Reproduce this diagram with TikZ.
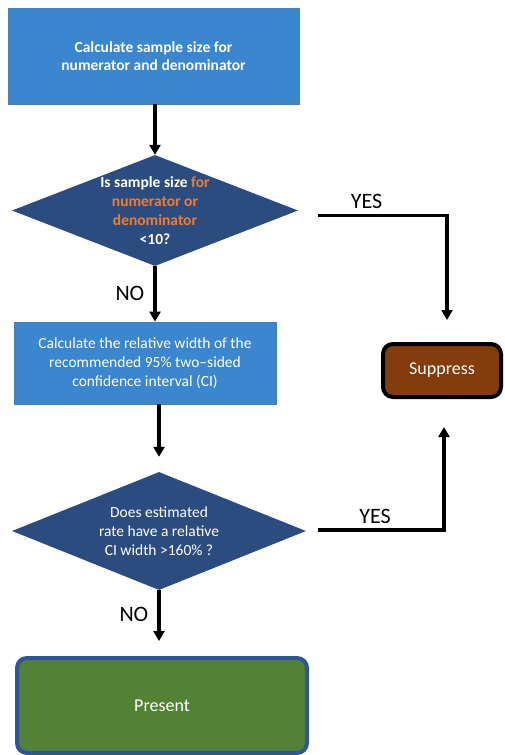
\documentclass[tikz,border=0pt]{standalone}
\usepackage{fontspec}
\setmainfont{Carlito}
\usetikzlibrary{arrows.meta,positioning,shapes.geometric}
\definecolor{fcblue}{HTML}{3A87CF}
\definecolor{fcblueline}{HTML}{4A7EBB}
\definecolor{fcnavy}{HTML}{2C4C80}
\definecolor{fcorange}{HTML}{ED7D31}
\definecolor{fcbrown}{HTML}{843C0C}
\definecolor{fcgreen}{HTML}{538135}
\definecolor{fcborder}{HTML}{2F5597}

\begin{document}
\begin{tikzpicture}[x=1pt, y=-1pt, font=\fontsize{15.5}{19}\selectfont,
  procbox/.style={rectangle, draw=fcblueline, line width=0.8pt, fill=fcblue, text=white, align=center, inner sep=4pt},
  decision/.style={diamond, fill=fcnavy, inner sep=0pt},
  dtext/.style={text=white, align=center, inner sep=0pt},
  endbox/.style={rectangle, rounded corners=10pt, line width=4pt, text=white, align=center, font=\fontsize{18}{22}\selectfont},
  arr/.style={-{Triangle[length=10pt,width=11pt]}, line width=3.4pt},
  lab/.style={font=\fontsize{22}{24}\selectfont, inner sep=1pt}]
\useasboundingbox (0,0) rectangle (504,755);
\node[procbox, minimum width=291pt, minimum height=96pt, font=\fontsize{15.5}{18.5}\selectfont\bfseries] (size) at (153.5,56) {Calculate sample size for\\numerator and denominator};
\node[decision, minimum width=286pt, minimum height=111pt] (small) at (155,210.5) {};
\node[dtext, font=\fontsize{15.5}{19}\selectfont\bfseries] (smalltext) at (small) {Is sample size \textcolor{fcorange}{for}\\\textcolor{fcorange}{numerator or}\\\textcolor{fcorange}{denominator}\\<10?};
\node[procbox, minimum width=262pt, minimum height=82pt] (width) at (145,363) {Calculate the relative width of the\\recommended 95\% two--sided\\confidence interval (CI)};
\node[decision, minimum width=294pt, minimum height=118pt] (wide) at (159,531) {};
\node[dtext] (widetext) at (wide) {Does estimated\\rate have a relative\\CI width >160\% ?};
\node[endbox, draw=black, fill=fcbrown, minimum width=118pt, minimum height=53pt] (suppress) at (442,370.5) {Suppress};
\node[endbox, draw=fcborder, fill=fcgreen, minimum width=290pt, minimum height=95pt] (present) at (162,705.5) {Present};
% connectors
\draw[arr] (small.north |- size.south) -- (small.north);
\draw[arr] (small.south) -- node[lab, left=8pt] (no1) {NO} (small.south |- width.north);
\draw[arr, shorten >=15pt] (width.south -| wide.north) -- (wide.north);
\draw[arr, shorten >=15pt] (wide.south) -- node[lab, pos=0.37, left=8pt] (no2) {NO} (wide.south |- present.north);
\draw[arr, shorten <=20pt, shorten >=22pt] ([yshift=-5pt]small.east) -| node[lab, pos=0.23, above=4pt] (yes1) {YES} ([xshift=5pt]suppress.north);
\draw[arr, shorten <=12pt, shorten >=28pt] ([yshift=1pt]wide.east) -| node[lab, pos=0.25, above=4pt] (yes2) {YES} ([xshift=2pt]suppress.south);
\end{tikzpicture}
\end{document}
